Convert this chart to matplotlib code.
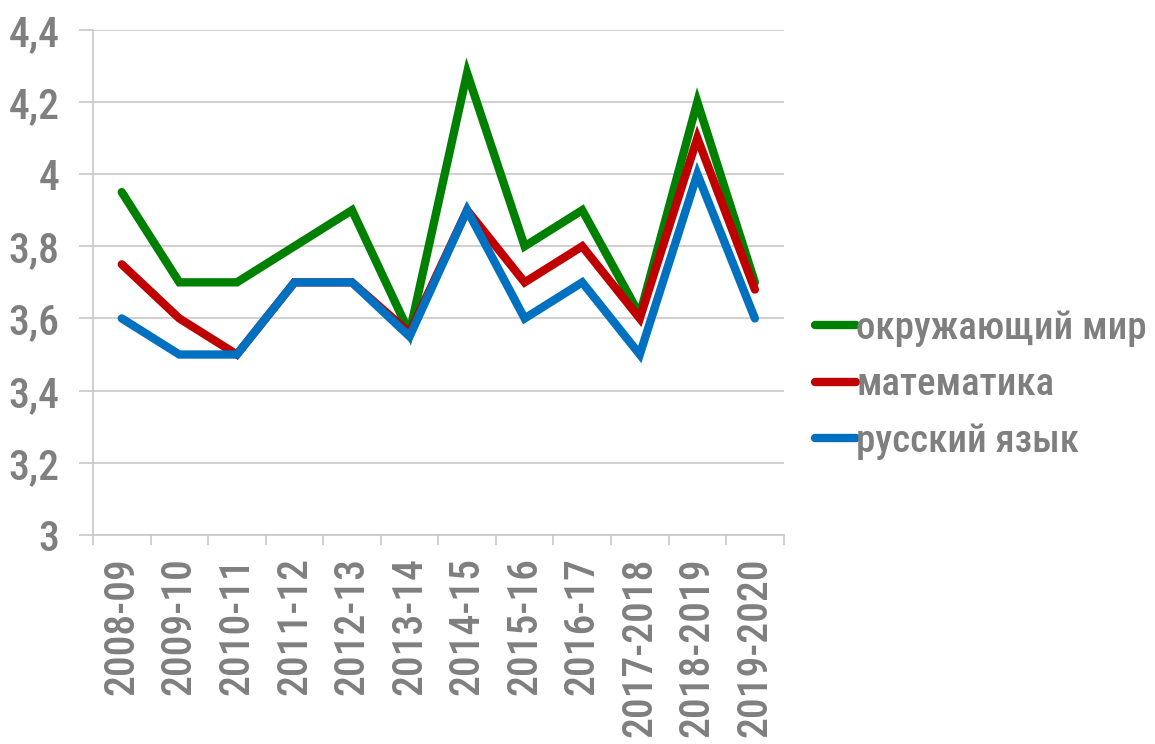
import matplotlib
matplotlib.use("Agg")
import matplotlib.pyplot as plt
import numpy as np

# --- data ---
years = ["2008-09", "2009-10", "2010-11", "2011-12", "2012-13", "2013-14",
         "2014-15", "2015-16", "2016-17", "2017-2018", "2018-2019", "2019-2020"]
okr_mir = [3.95, 3.7, 3.7, 3.8, 3.9, 3.56, 4.28, 3.8, 3.9, 3.61, 4.2, 3.7]
matem = [3.75, 3.6, 3.5, 3.7, 3.7, 3.56, 3.9, 3.7, 3.8, 3.6, 4.1, 3.68]
rus_yaz = [3.6, 3.5, 3.5, 3.7, 3.7, 3.55, 3.9, 3.6, 3.7, 3.5, 4.0, 3.6]
y_ticks = [3, 3.2, 3.4, 3.6, 3.8, 4, 4.2, 4.4]

GRAY = "#7f7f7f"
GRID = "#c8c8c8"
plt.rcParams['font.family'] = ['Roboto Condensed', 'DejaVu Sans']

fig = plt.figure(figsize=(11.55, 7.44), dpi=100)
ax = fig.add_axes([0.0805, 0.281, 0.598, 0.679])

x = np.arange(len(years))
style = dict(lw=6.0, solid_capstyle="round", solid_joinstyle="miter")
ax.plot(x, okr_mir, color="#008000", label="окружающий мир", **style)
ax.plot(x, matem, color="#c00000", label="математика", **style)
ax.plot(x, rus_yaz, color="#0070c0", label="русский язык", **style)

ax.set_xlim(-0.5, len(years) - 0.5)
ax.set_ylim(3, 4.4)
ax.set_yticks(y_ticks)
ax.set_yticklabels([f"{v:g}".replace(".", ",") for v in y_ticks])
ax.yaxis.grid(True, color=GRID, lw=1.2)
ax.set_axisbelow(True)

# category labels centred, tick marks on the boundaries
ax.set_xticks(x)
ax.set_xticklabels(years, rotation=90)
ax.set_xticks(np.arange(len(years) + 1) - 0.5, minor=True)
ax.tick_params(axis="x", which="major", length=0, pad=16, labelsize=30, labelcolor=GRAY)
ax.tick_params(axis="x", which="minor", length=7, color=GRID, width=1.2)
ax.tick_params(axis="y", length=10, color=GRID, width=1.2, pad=14, labelsize=30, labelcolor=GRAY)

for lab in ax.get_xticklabels() + ax.get_yticklabels():
    lab.set_fontweight("medium")

for s in ["top", "right"]:
    ax.spines[s].set_visible(False)
for s in ["left", "bottom"]:
    ax.spines[s].set_color(GRID)
    ax.spines[s].set_linewidth(1.2)

leg = ax.legend(loc="center left", bbox_to_anchor=(1.046, 0.297), frameon=False,
                prop={"size": 28, "weight": "medium"}, handlelength=1.05, borderpad=0,
                borderaxespad=0, handletextpad=0.0, labelspacing=0.5, labelcolor=GRAY)

fig.savefig("out.png", dpi=100)
